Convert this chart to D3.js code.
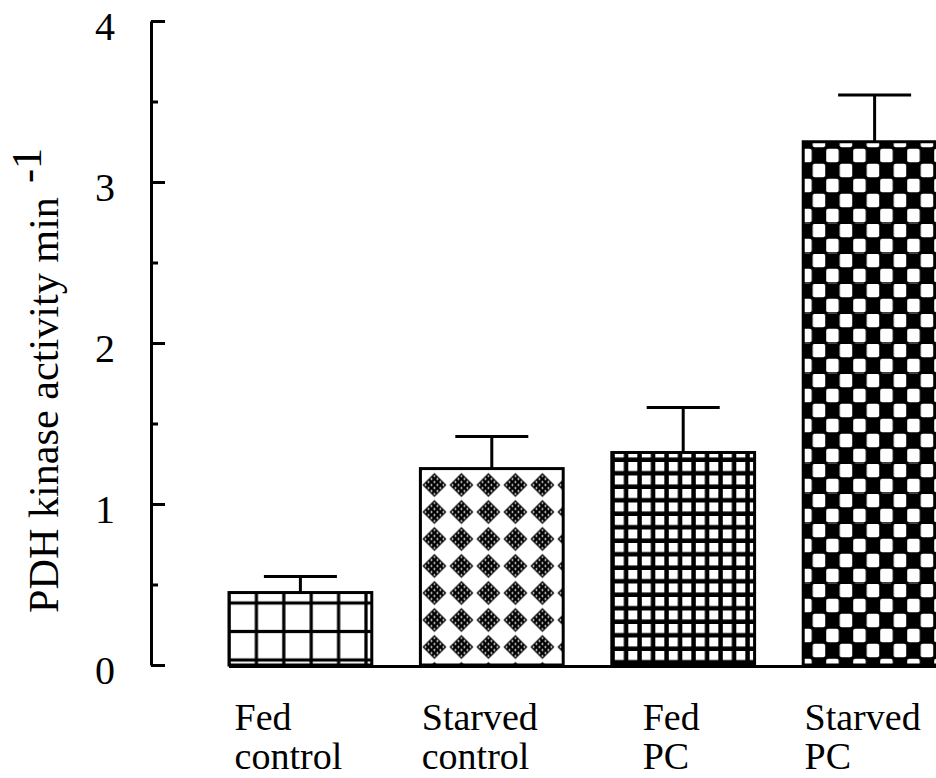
<!DOCTYPE html>
<html>
<head>
<meta charset="utf-8">
<script src="https://cdn.jsdelivr.net/npm/d3@7/dist/d3.min.js"></script>
<style>
  html, body { margin: 0; padding: 0; background: #fff; }
  svg { display: block; }
</style>
</head>
<body>
<script>
// ---- data ----
const categories = ["Fed control", "Starved control", "Fed PC", "Starved PC"];
const labelLines = [["Fed", "control"], ["Starved", "control"], ["Fed", "PC"], ["Starved", "PC"]];
const values = [0.45, 1.22, 1.32, 3.25];
const errors = [0.10, 0.20, 0.28, 0.29];
const majorTicks = [0, 1, 2, 3, 4];
const minorTicks = [0.5, 1.5, 2.5, 3.5];
const yTitle = "PDH kinase activity min";
const yTitleSup = "-1";
const patternIds = ["grid-large", "diamonds", "grid-fine", "checker"];

// ---- layout ----
const W = 936, H = 778;
const SERIF = "'Liberation Serif', 'Times New Roman', Times, serif";
const svg = d3.select("body").append("svg").attr("width", W).attr("height", H);

const y = d3.scaleLinear().domain([0, 4]).range([665, 21]);
const x = d3.scaleBand().domain(categories).range([229, 946]).paddingInner(0.254).paddingOuter(0);
const axisX = 151;
const bw = x.bandwidth();

const defs = svg.append("defs");
const left = i => x(categories[i]);

// Pattern 1: large grid
{
  const pw = 27.4, ph = 28.5;
  const p = defs.append("pattern").attr("id", patternIds[0]).attr("patternUnits", "userSpaceOnUse")
    .attr("width", pw).attr("height", ph)
    .attr("x", left(0) - pw / 2).attr("y", y(0) - 5 - ph / 2);
  p.append("rect").attr("width", pw).attr("height", ph).attr("fill", "#fff");
  p.append("rect").attr("x", pw / 2 - 1.6).attr("y", 0).attr("width", 3.2).attr("height", ph).attr("fill", "#000");
  p.append("rect").attr("x", 0).attr("y", ph / 2 - 1.6).attr("width", pw).attr("height", 3.2).attr("fill", "#000");
}
// Pattern 2: dotted diamonds
{
  const pw = 27, ph = 27, c = 13.5, r = 12;
  const p = defs.append("pattern").attr("id", patternIds[1]).attr("patternUnits", "userSpaceOnUse")
    .attr("width", pw).attr("height", ph)
    .attr("x", left(1) + 0.5).attr("y", y(0) + 9 - c);
  p.append("rect").attr("width", pw).attr("height", ph).attr("fill", "#fff");
  p.append("path").attr("d", `M${c},${c - r}L${c + r},${c}L${c},${c + r}L${c - r},${c}Z`).attr("fill", "#000");
  const s = 4.2, k = Math.SQRT1_2;
  const offs = [-1.5, -0.5, 0.5, 1.5];
  offs.forEach(u => offs.forEach(v => {
    p.append("circle").attr("cx", c + (u - v) * s * k).attr("cy", c + (u + v) * s * k)
      .attr("r", 0.95).attr("fill", "#fff");
  }));
}
// Pattern 3: fine grid
{
  const pw = 13.5, ph = 13.5;
  const p = defs.append("pattern").attr("id", patternIds[2]).attr("patternUnits", "userSpaceOnUse")
    .attr("width", pw).attr("height", ph)
    .attr("x", left(2) + 3).attr("y", y(0) - 0.5);
  p.append("rect").attr("width", pw).attr("height", ph).attr("fill", "#000");
  p.append("rect").attr("width", 9).attr("height", 9).attr("fill", "#fff");
}
// Pattern 4: checkerboard
{
  const cw = 13.5, ch = 15;
  const p = defs.append("pattern").attr("id", patternIds[3]).attr("patternUnits", "userSpaceOnUse")
    .attr("width", 2 * cw).attr("height", 2 * ch)
    .attr("x", left(3) + 9).attr("y", y(0) + 8);
  p.append("rect").attr("width", 2 * cw).attr("height", 2 * ch).attr("fill", "#000");
  p.append("rect").attr("x", 0.5).attr("y", 0.7).attr("width", cw - 1).attr("height", ch - 1.4).attr("rx", 2).attr("fill", "#fff");
  p.append("rect").attr("x", cw + 0.5).attr("y", ch + 0.7).attr("width", cw - 1).attr("height", ch - 1.4).attr("rx", 2).attr("fill", "#fff");
}

// ---- baseline ----
svg.append("line")
  .attr("x1", x.range()[0]).attr("x2", W)
  .attr("y1", y(0) + 1.5).attr("y2", y(0) + 1.5)
  .attr("stroke", "#000").attr("stroke-width", 3);

// ---- bars ----
svg.append("g").selectAll("rect").data(values).join("rect")
  .attr("x", (d, i) => x(categories[i]))
  .attr("y", d => y(d))
  .attr("width", bw)
  .attr("height", d => y(0) - y(d))
  .attr("fill", (d, i) => `url(#${patternIds[i]})`)
  .attr("stroke", "#000").attr("stroke-width", 3);

// ---- error bars ----
const capHalf = 36.5;
const eg = svg.append("g").attr("stroke", "#000").attr("stroke-width", 3);
values.forEach((v, i) => {
  const cx = x(categories[i]) + bw / 2;
  eg.append("line").attr("x1", cx).attr("x2", cx).attr("y1", y(v)).attr("y2", y(v + errors[i]));
  eg.append("line").attr("x1", cx - capHalf).attr("x2", cx + capHalf)
    .attr("y1", y(v + errors[i])).attr("y2", y(v + errors[i]));
});

// ---- y axis ----
const gMajor = svg.append("g").attr("transform", `translate(${axisX},0)`)
  .call(d3.axisLeft(y).tickValues(majorTicks).tickFormat(d3.format("d"))
    .tickSizeInner(-14).tickSizeOuter(0).tickPadding(36));
gMajor.select(".domain").attr("stroke-width", 3);
gMajor.selectAll(".tick line").attr("stroke-width", 3);
gMajor.selectAll(".tick text")
  .attr("font-family", SERIF)
  .attr("font-size", 40).attr("fill", "#000").attr("dy", "0.45em");

const gMinor = svg.append("g").attr("transform", `translate(${axisX},0)`)
  .call(d3.axisLeft(y).tickValues(minorTicks).tickFormat("").tickSizeInner(-7).tickSizeOuter(0));
gMinor.select(".domain").remove();
gMinor.selectAll(".tick line").attr("stroke-width", 3);

// ---- y title ----
const yt = svg.append("text")
  .attr("transform", "translate(58,613) rotate(-90)")
  .attr("font-family", SERIF)
  .attr("font-size", 40).attr("fill", "#000");
const main = yt.append("tspan").text(yTitle);
const targetLen = 416;
const len = main.node().getComputedTextLength();
yt.attr("font-size", 40 * targetLen / len);
yt.append("tspan").attr("dx", 14).attr("dy", -17).text(yTitleSup);

// ---- x labels ----
const lg = svg.append("g")
  .attr("font-family", SERIF)
  .attr("font-size", 38).attr("fill", "#000");
labelLines.forEach((lines, i) => {
  const t = lg.append("text");
  lines.forEach((s, j) => t.append("tspan").attr("y", 730 + j * 39).text(s));
  let maxW = 0;
  t.selectAll("tspan").each(function () { maxW = Math.max(maxW, this.getComputedTextLength()); });
  const cx = x(categories[i]) + bw / 2 - 12;
  t.selectAll("tspan").attr("x", cx - maxW / 2);
});
</script>
</body>
</html>
